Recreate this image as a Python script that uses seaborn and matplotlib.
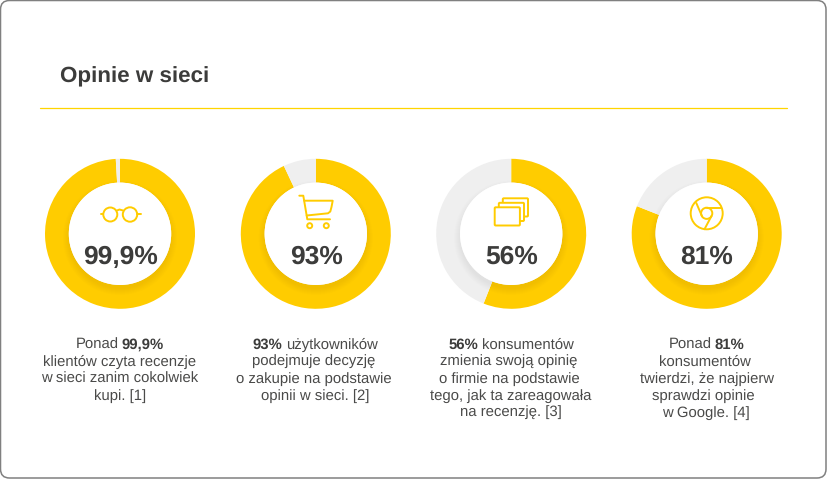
import matplotlib
matplotlib.use("Agg")
import matplotlib.pyplot as plt
import seaborn as sns
from matplotlib.patches import Circle, FancyBboxPatch
from matplotlib.lines import Line2D

# ---------- data ----------
title = "Opinie w sieci"
value_labels = ["99,9%", "93%", "56%", "81%"]
ring_values = [99.1, 93, 56, 81]
captions = [
    ["Ponad *99,9%", "klientów czyta recenzje", "w sieci zanim cokolwiek", "kupi. [1]"],
    ["*93% użytkowników", "podejmuje decyzję", "o zakupie na podstawie", "opinii w sieci. [2]"],
    ["*56% konsumentów", "zmienia swoją opinię", "o firmie na podstawie", "tego, jak ta zareagowała", "na recenzję. [3]"],
    ["Ponad *81%", "konsumentów", "twierdzi, że najpierw", "sprawdzi opinie", "w Google. [4]"],
]
caption_centres = [
    [119.7, 119.7, 119.7, 119.7],
    [315.0, 313.3, 313.7, 315.3],
    [511.0, 508.3, 509.5, 510.8, 511.0],
    [706.7, 705.0, 706.7, 703.7, 706.0],
]
centres_x = [120.0, 315.8, 511.2, 706.7]

# ---------- style ----------
W, H = 827, 480
YELLOW, GREY, DARK = "#ffcc00", "#efefef", "#3c3c3b"
CAPTION = "#4a4a49"
sns.set_theme(style="white")
plt.rcParams["font.family"] = ["Liberation Sans", "DejaVu Sans"]
plt.rcParams["text.hinting"] = "no_hinting"
plt.rcParams["text.hinting_factor"] = 8
plt.rcParams["text.kerning_factor"] = 6
palette = sns.color_palette([YELLOW, GREY])
CY, R_OUT, R_IN = 233.8, 75.0, 51.2

fig = plt.figure(figsize=(W / 100, H / 100), dpi=100, facecolor="white")

# ---------- donuts ----------
for cx, v in zip(centres_x, ring_values):
    ax = fig.add_axes([(cx - R_OUT) / W, 1 - (CY + R_OUT) / H, 2 * R_OUT / W, 2 * R_OUT / H])
    ax.pie([v, 100 - v], colors=palette, startangle=90, counterclock=False,
           radius=1, wedgeprops=dict(width=1 - R_IN / R_OUT, linewidth=0))
    ax.set_xlim(-1, 1)
    ax.set_ylim(-1, 1)
    ax.axis("off")
    for i in range(7):
        ax.add_patch(Circle((0, -4 / R_OUT), (R_IN + 6 - i) / R_OUT, fc="black", ec="none", alpha=0.007, zorder=5))
    ax.add_patch(Circle((0, 0), R_IN / R_OUT, fc="white", ec="none", zorder=6))

# ---------- overlay in pixel coordinates ----------
ov = fig.add_axes([0, 0, 1, 1], facecolor="none")
ov.set_xlim(0, W)
ov.set_ylim(H, 0)
ov.axis("off")

ov.add_patch(FancyBboxPatch((8.5, 8.5), 809.5, 461.5, boxstyle="round,pad=8,rounding_size=9",
                            fc="none", ec="#808080", lw=1.1, zorder=1))
ov.text(60, 82.5, title, fontsize=16.1, fontweight="bold", color=DARK, ha="left", va="baseline")
ov.add_line(Line2D([40, 787], [108, 108], color="#ffd500", lw=0.9))

for cx, lab in zip(centres_x, value_labels):
    ov.text(cx + 0.3, 264, lab, fontsize=19.0, fontweight="bold", color=DARK, ha="center", va="baseline", zorder=3)

# captions: bold and regular runs placed side by side, centred per line
CAP_SIZE = 10.7
fig.canvas.draw()
rend = fig.canvas.get_renderer()
space = 0.22 * CAP_SIZE * 100 / 72
for lines, xs in zip(captions, caption_centres):
    for k, (line, xc) in enumerate(zip(lines, xs)):
        y = 348.5 + 17 * k
        runs = []
        if "*" in line:
            for w in line.split(" "):
                runs.append((w.lstrip("*"), w.startswith("*")))
        else:
            runs.append((line, False))
        placed = []
        for txt, bold in runs:
            t = ov.text(0, y, txt, fontsize=CAP_SIZE, color=DARK if bold else CAPTION,
                        fontweight="bold" if bold else "normal", ha="left", va="baseline")
            placed.append((t, t.get_window_extent(rend).width))
        total = sum(b for _, b in placed) + space * (len(placed) - 1)
        x = xc - total / 2
        for t, b in placed:
            t.set_x(x)
            x += b + space

# ---------- icons ----------
ICON = dict(color=YELLOW, lw=1.4, solid_capstyle="round", solid_joinstyle="round", zorder=8)
def poly(pts, **kw):
    ov.add_line(Line2D([p[0] for p in pts], [p[1] for p in pts], **{**ICON, **kw}))
def ring(c, r, fc="none"):
    ov.add_patch(Circle(c, r, fc=fc, ec=YELLOW, lw=1.4, zorder=8))

# glasses
ring((110.3, 214.5), 7.0)
ring((130.0, 214.5), 7.2)
poly([(117, 210.5), (119.5, 209.5), (123, 210.5)])
poly([(101, 214), (103.3, 214)])
poly([(137.2, 214), (140.5, 214)])

# cart
poly([(299.3, 195.7), (303.3, 195.7), (307.3, 219.3), (330, 219.3)])
poly([(304.3, 200.7), (332.7, 200.7), (331.5, 207), (330.3, 211.5), (328, 213.3), (306.7, 215.5)])
ring((309.7, 225.7), 2.5)
ring((326.3, 225.7), 2.5)

# cards
for x0, y0 in [(502.8, 198.3), (498.8, 202.8), (494.7, 207.3)]:
    ov.add_patch(FancyBboxPatch((x0 + 1, y0 + 1), 23.2, 16.2, boxstyle="round,pad=1,rounding_size=1",
                                fc="white", ec=YELLOW, lw=1.4, zorder=8))

# chrome
ring((706.7, 213.3), 16.0)
ring((706.7, 213.3), 5.6)
poly([(706.7, 207.7), (721.4, 207.7)])
poly([(696.3, 203), (702, 216.2)])
poly([(711.5, 216), (704.5, 229.2)])

fig.savefig("out.png", dpi=100, facecolor="white")
